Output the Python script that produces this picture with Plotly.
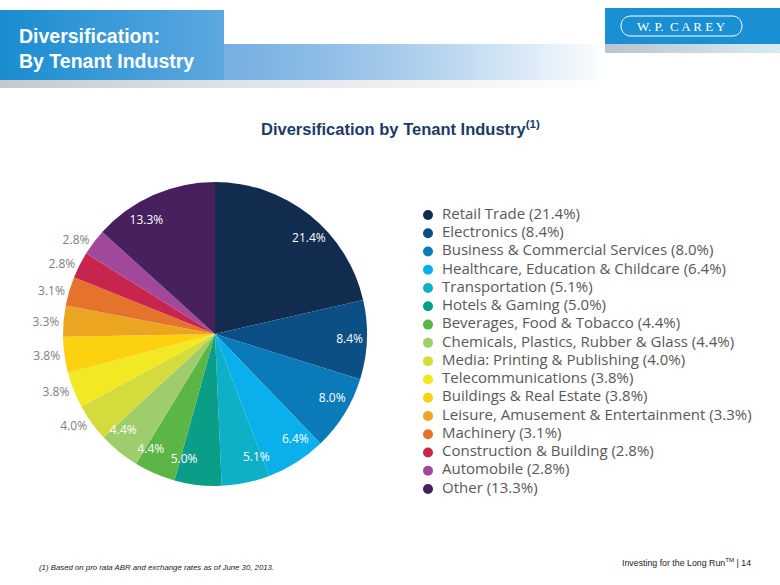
import plotly.graph_objects as go

# ---------------- data ----------------
categories = [
    "Retail Trade", "Electronics", "Business & Commercial Services",
    "Healthcare, Education & Childcare", "Transportation", "Hotels & Gaming",
    "Beverages, Food & Tobacco", "Chemicals, Plastics, Rubber & Glass",
    "Media: Printing & Publishing", "Telecommunications",
    "Buildings & Real Estate", "Leisure, Amusement & Entertainment",
    "Machinery", "Construction & Building", "Automobile", "Other",
]
shares = [21.4, 8.4, 8.0, 6.4, 5.1, 5.0, 4.4, 4.4, 4.0, 3.8, 3.8, 3.3, 3.1, 2.8, 2.8, 13.3]
slice_colors = [
    "#112c4f", "#0b4f85", "#0a7bb8", "#0ab0ec", "#0db0c6", "#0a9e88",
    "#5cb645", "#9fcd6b", "#d3dc3c", "#f2e824", "#fbd110", "#eba520",
    "#e5732b", "#c8254e", "#a2489b", "#47205e",
]
label_positions = ["inside"] * 8 + ["outside"] * 7 + ["inside"]

W, H = 780, 585
fig = go.Figure()

share_text = [f"{v:.1f}%" for v in shares]
outer_text = [t if p == "outside" else "" for t, p in zip(share_text, label_positions)]

# ---------------- pie ----------------
cx, cy, r = 215, 334, 152


def square_domain(rad):
    return dict(x=[(cx - rad) / W, (cx + rad) / W], y=[(H - cy - rad) / H, (H - cy + rad) / H])


fig.add_trace(go.Pie(
    labels=categories, values=shares, sort=False, direction="clockwise", rotation=0,
    marker=dict(colors=slice_colors, line=dict(width=0)),
    text=outer_text, textinfo="text", textposition="outside",
    outsidetextfont=dict(family="Open Sans", size=12, color="#808080"),
    domain=square_domain(r), hoverinfo="skip", showlegend=False,
))
# transparent concentric pies used only to place the white in-slice labels near the rim
# (alternate labels split over two traces so they are not pushed apart)
for grp in (0, 1):
    inner_text = [t if (p == "inside" and i % 2 == grp) else ""
                  for i, (t, p) in enumerate(zip(share_text, label_positions))]
    fig.add_trace(go.Pie(
        labels=categories, values=shares, sort=False, direction="clockwise", rotation=0,
        marker=dict(colors=["rgba(0,0,0,0)"] * len(shares), line=dict(width=0)),
        text=inner_text, textinfo="text", textposition="outside",
        outsidetextfont=dict(family="Open Sans", size=12, color="white"),
        domain=square_domain(117), hoverinfo="skip", showlegend=False,
    ))

# ---------------- custom legend ----------------
leg_top, leg_bot = 215, 489
fig.add_trace(go.Scatter(
    x=[428] * len(categories), y=list(range(len(categories))),
    xaxis="x", yaxis="y2", mode="markers",
    marker=dict(size=10, color=slice_colors),
    hoverinfo="skip", showlegend=False, cliponaxis=False,
))
fig.add_trace(go.Scatter(
    x=[442] * len(categories), y=list(range(len(categories))),
    xaxis="x", yaxis="y2", mode="text",
    text=[f"{c} ({v:.1f}%)" for c, v in zip(categories, shares)],
    textposition="middle right",
    textfont=dict(family="Open Sans", size=15, color="#58595b"),
    hoverinfo="skip", showlegend=False, cliponaxis=False,
))

shapes = []


def lerp(c1, c2, t):
    a = [int(c1[i:i + 2], 16) for i in (1, 3, 5)]
    b = [int(c2[i:i + 2], 16) for i in (1, 3, 5)]
    return "#%02x%02x%02x" % tuple(round(a[k] + (b[k] - a[k]) * t) for k in range(3))


step = 4
# shadow under band
for x0 in range(0, 605, step):
    t = x0 / 605
    shapes.append(dict(type="rect", xref="x", yref="y", x0=x0, x1=x0 + step + 0.5, y0=78, y1=88,
                       fillcolor=lerp("#c2c8cf", "#ffffff", t ** 0.8), line=dict(width=0), layer="below"))
# header blue box gradient
for x0 in range(0, 224, step):
    t = x0 / 224
    shapes.append(dict(type="rect", xref="x", yref="y", x0=x0, x1=min(x0 + step + 0.5, 224), y0=10, y1=80,
                       fillcolor=lerp("#1a8dd0", "#5ea8e0", t), line=dict(width=0), layer="below"))
for x0 in range(224, 605, step):
    t = (x0 - 224) / (605 - 224)
    shapes.append(dict(type="rect", xref="x", yref="y", x0=x0, x1=min(x0 + step + 0.5, 605), y0=44, y1=80,
                       fillcolor=lerp("#78b0e2", "#ffffff", t ** 1.3), line=dict(width=0), layer="below"))
# logo box
for x0 in range(605, 780, step):
    t = (x0 - 605) / 175
    shapes.append(dict(type="rect", xref="x", yref="y", x0=x0, x1=x0 + step + 0.5, y0=44, y1=53,
                       fillcolor=lerp("#b9c4ce", "#d8ecf6", t), line=dict(width=0), layer="below"))
shapes.append(dict(type="rect", xref="x", yref="y", x0=605, x1=780, y0=8, y1=44,
                   fillcolor="#1b8fd3", line=dict(width=0), layer="below"))
# logo oval
shapes.append(dict(type="path", xref="x", yref="y",
                   path="M 631,16 L 732,16 C 745.3,16 745.3,36 732,36 L 631,36 C 617.7,36 617.7,16 631,16 Z",
                   line=dict(color="white", width=1), fillcolor="rgba(0,0,0,0)"))

annotations = [
    dict(x=17, y=36, xref="x", yref="y", text="<b>Diversification:</b>", showarrow=False, xanchor="left",
         font=dict(family="Arial, Liberation Sans", size=19.5, color="white")),
    dict(x=17, y=61, xref="x", yref="y", text="<b>By Tenant Industry</b>", showarrow=False, xanchor="left",
         font=dict(family="Arial, Liberation Sans", size=19.5, color="white")),
    dict(x=681, y=26, xref="x", yref="y", text="W. P.  C A R E Y", showarrow=False,
         font=dict(family="Liberation Serif", size=13, color="white")),
    dict(x=400, y=128, xref="x", yref="y", text="<b>Diversification by Tenant Industry<sup>(1)</sup></b>",
         showarrow=False, font=dict(family="Arial, Liberation Sans", size=16.5, color="#1c3a68")),
    dict(x=37, y=567, xref="x", yref="y",
         text="<i>(1) Based on pro rata ABR and exchange rates as of June 30, 2013.</i>",
         showarrow=False, xanchor="left", font=dict(family="Arial, Liberation Sans", size=7.8, color="#222")),
    dict(x=753, y=562, xref="x", yref="y", text="Investing for the Long Run<sup>TM</sup> | 14",
         showarrow=False, xanchor="right", font=dict(family="Arial, Liberation Sans", size=8.8, color="#222")),
]

n = len(categories)
fig.update_layout(
    width=W, height=H, margin=dict(l=0, r=0, t=0, b=0),
    paper_bgcolor="white", plot_bgcolor="rgba(0,0,0,0)",
    xaxis=dict(range=[0, W], domain=[0, 1], visible=False, fixedrange=True),
    yaxis=dict(range=[H, 0], domain=[0, 1], visible=False, fixedrange=True),
    yaxis2=dict(range=[n - 1, 0], domain=[(H - leg_bot) / H, (H - leg_top) / H],
                visible=False, fixedrange=True, anchor="x"),
    shapes=shapes, annotations=annotations, showlegend=False,
)

fig.write_html("out.html", config={"displayModeBar": False},
               post_script="document.body.style.margin='0';")
